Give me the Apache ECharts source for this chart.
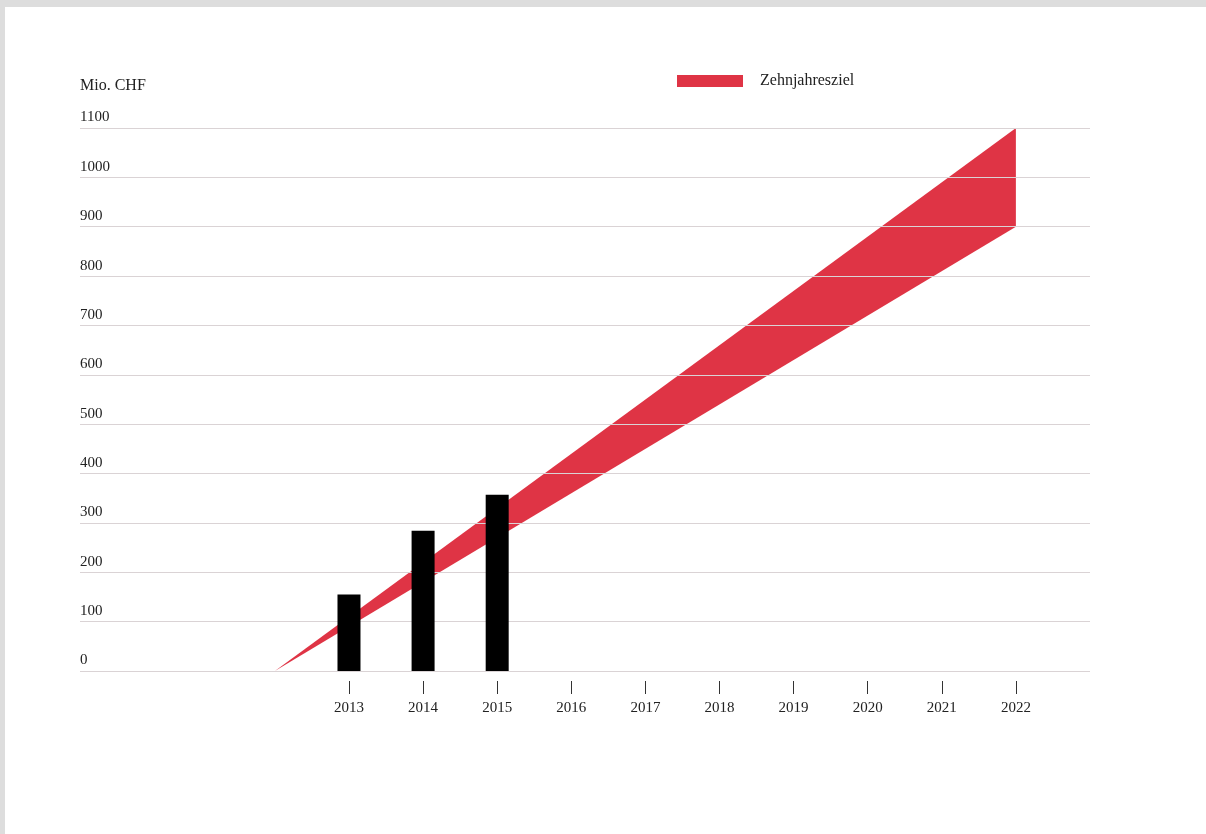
<!DOCTYPE html>
<html>
<head>
<meta charset="utf-8">
<script src="https://cdn.jsdelivr.net/npm/echarts@6/dist/echarts.min.js"></script>
<style>
  html, body { margin: 0; padding: 0; background: #dddddd; }
  #chart { position: absolute; left: 5px; top: 7px; width: 1201px; height: 827px; background: #ffffff; }
</style>
</head>
<body>
<div id="chart"></div>
<script>
// Actual annual values (Mio. CHF)
const barYears = [2013, 2014, 2015];
const barValues = [155, 284, 357];

// Ten-year target corridor: starts at zero in 2012, ends between 900 and 1100 in 2022
const targetYears = [2012, 2022];
const targetLow = [0, 900];
const targetHigh = [0, 1100];

// Labelled years on the horizontal axis
const tickYears = [2013, 2014, 2015, 2016, 2017, 2018, 2019, 2020, 2021, 2022];

const FONT = '"Liberation Serif", "Times New Roman", serif';
const RED = '#df3445';
const GRID = '#dad3d5';

const chart = echarts.init(document.getElementById('chart'), null, { renderer: 'canvas' });

const xCommon = { type: 'value', min: 2009.37, max: 2023, splitLine: { show: false } };

// corridor polygon: lower edge forwards, upper edge backwards
const corridorData = targetYears.map((y, i) => [y, targetLow[i], targetHigh[i]]);

chart.setOption({
  animation: false,
  textStyle: { fontFamily: FONT },
  grid: { left: 75, top: 121, width: 1010, height: 543, containLabel: false },
  legend: {
    left: 667, top: 61,
    data: [{ name: 'Zehnjahresziel', itemStyle: { color: RED } }],
    icon: 'rect',
    itemWidth: 66, itemHeight: 12,
    itemGap: 10,
    textStyle: { fontFamily: FONT, fontSize: 16, color: '#222', padding: [4, 0, 0, 12] }
  },
  graphic: [{
    type: 'text', left: 75, top: 71,
    style: { text: 'Mio. CHF', font: '16px ' + FONT, fill: '#222' }
  }],
  xAxis: [
    Object.assign({}, xCommon, {
      axisLine: { show: false }, axisTick: { show: false }, axisLabel: { show: false }
    }),
    Object.assign({}, xCommon, {
      position: 'bottom', offset: 10,
      axisLine: { show: false },
      axisTick: { show: true, customValues: tickYears, length: 13, lineStyle: { color: '#333', width: 1 } },
      axisLabel: {
        customValues: tickYears, margin: 20,
        fontFamily: FONT, fontSize: 15, color: '#222',
        formatter: v => String(Math.round(v))
      }
    })
  ],
  yAxis: {
    type: 'value', min: 0, max: 1100, interval: 100,
    axisLine: { show: false }, axisTick: { show: false },
    splitLine: { show: true, lineStyle: { color: GRID, width: 1 } },
    axisLabel: {
      inside: true, align: 'left', verticalAlign: 'bottom', margin: 0,
      padding: [0, 0, 3, 0],
      fontFamily: FONT, fontSize: 15, color: '#222',
      formatter: v => String(v)
    },
    z: 3
  },
  series: [
    {
      name: 'Zehnjahresziel', type: 'custom', z: 2,
      xAxisIndex: 0, silent: true,
      itemStyle: { color: RED },
      data: corridorData,
      renderItem: function (params, api) {
        if (params.dataIndex !== 0) return;
        const lower = corridorData.map(d => api.coord([d[0], d[1]]));
        const upper = corridorData.map(d => api.coord([d[0], d[2]])).reverse();
        return {
          type: 'polygon',
          shape: { points: lower.concat(upper) },
          style: { fill: RED }
        };
      }
    },
    {
      name: 'Ist', type: 'bar', z: 5,
      xAxisIndex: 0,
      barWidth: 23,
      itemStyle: { color: '#000000' },
      data: barYears.map((y, i) => [y, barValues[i]])
    }
  ]
});
</script>
</body>
</html>
